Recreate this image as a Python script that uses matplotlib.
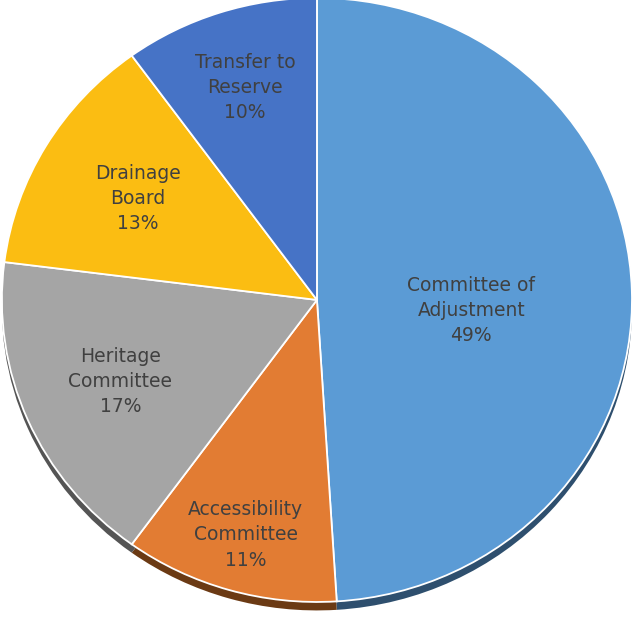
import matplotlib
matplotlib.use("Agg")
import matplotlib.pyplot as plt
import numpy as np

labels = ["Committee of\nAdjustment", "Accessibility\nCommittee", "Heritage\nCommittee",
          "Drainage\nBoard", "Transfer to\nReserve"]
shares = [49, 11, 17, 13, 10]
colors = ["#5B9BD5", "#E27C33", "#A5A5A5", "#FBBD12", "#4673C6"]
dark = ["#2E4F6E", "#6B3A14", "#555555", "#7A5C08", "#23395F"]
label_dist = [0.49, 0.81, 0.68, 0.66, 0.74]
label_dy = [-0.05, 0, 0, 0, 0]

fig = plt.figure(figsize=(6.32, 6.21), dpi=100)
ax = fig.add_axes([0, 0, 1, 1])

# depth (bottom rim)
ax.pie(shares, colors=dark, startangle=90, counterclock=False, center=(0, -0.028),
       wedgeprops=dict(edgecolor="none"))
wedges, _ = ax.pie(shares, colors=colors, startangle=90, counterclock=False,
                   wedgeprops=dict(edgecolor="white", linewidth=1.3))

for w, lab, d, dy, v in zip(wedges, labels, label_dist, label_dy, shares):
    ang = np.deg2rad((w.theta1 + w.theta2) / 2)
    ax.text(d * np.cos(ang), d * np.sin(ang) + dy, f"{lab}\n{v}%", ha="center", va="center",
            fontsize=13.5, color="#404040", linespacing=1.42, family="DejaVu Sans")

ax.set_aspect("auto")
ax.set_xlim(-1.006, 1.0)
ax.set_ylim(-1.063, 0.993)
ax.axis("off")
plt.savefig("out.png", dpi=100)
